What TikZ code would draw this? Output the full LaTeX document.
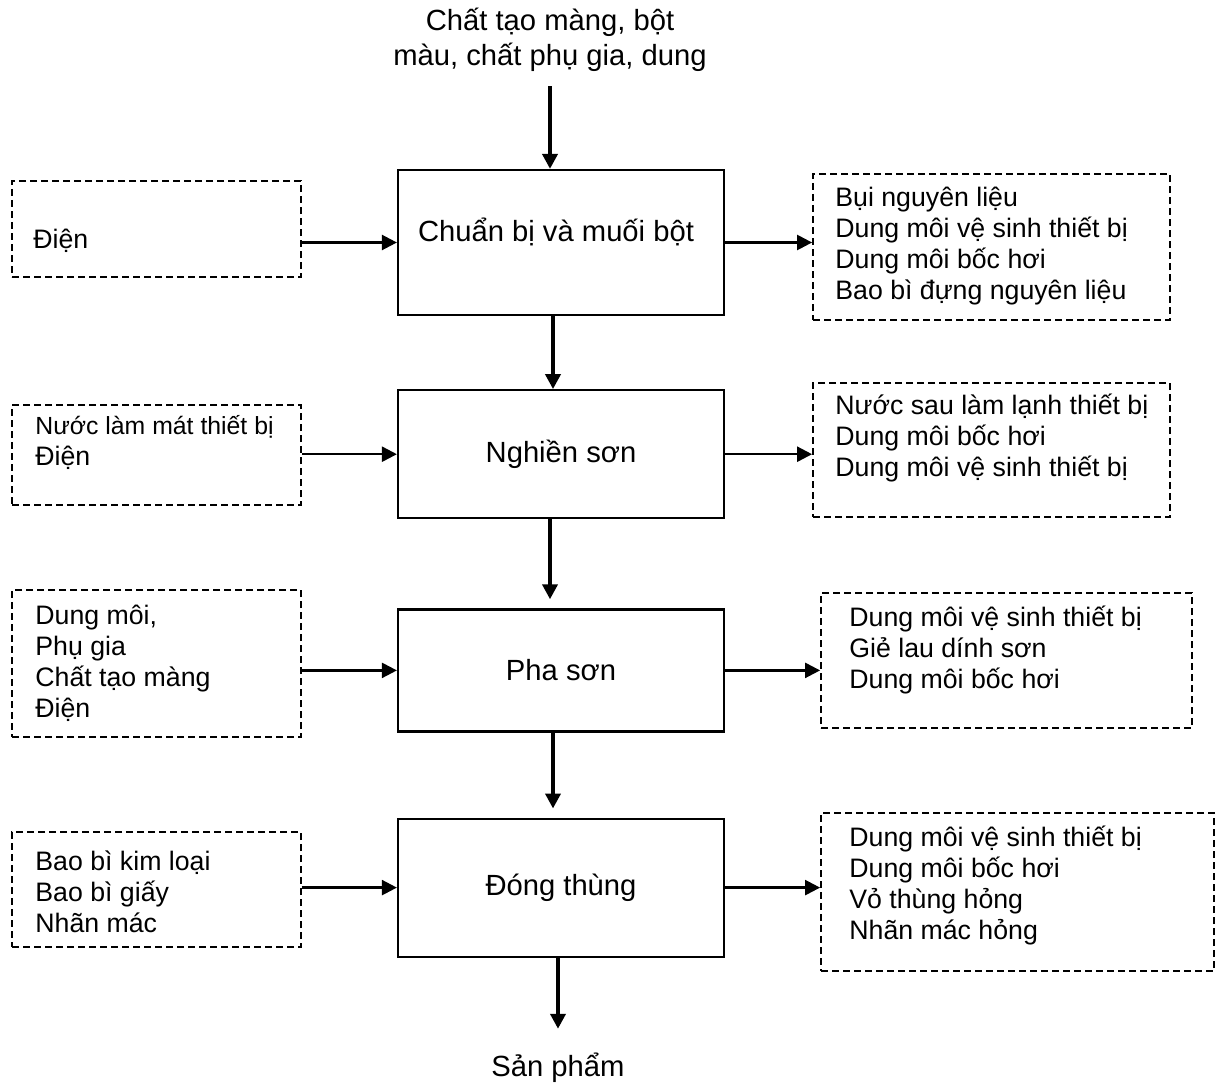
\documentclass[tikz,border=0pt]{standalone}
\usepackage{fontspec}
\setmainfont{Liberation Sans}
\usetikzlibrary{arrows.meta,positioning}
\tikzset{
stepbox/.style={draw,rectangle,line width=1.1pt,minimum width=163pt,align=center,font=\fontsize{14.6pt}{17.5pt}\selectfont},
sidebox/.style={draw,rectangle,dash pattern=on 3.5pt off 2pt,line width=0.9pt},
note/.style={inner sep=0pt,align=left,anchor=west,font=\fontsize{13.35pt}{15.5pt}\selectfont},
flow/.style={->,line width=2pt},
feed/.style={->,line width=1.2pt}
}

\begin{document}
\begin{tikzpicture}[x=0.5pt,y=-0.5pt,>={Triangle[length=7.5pt,width=7.5pt]}]
\useasboundingbox (0,0) rectangle (1221,1086);

\node[inner sep=0pt,align=center,font=\fontsize{14.6pt}{17.5pt}\selectfont] (src) at (550,40) {Chất tạo màng, bột\\màu, chất phụ gia, dung};

\node[stepbox,minimum height=72.5pt,text depth=13pt] (c1) at (561,242.5) {Chuẩn bị và muối bột\hspace{5pt}};
\node[stepbox,minimum height=64pt,below=36.5pt of c1] (c2) {Nghiền sơn};
\node[stepbox,minimum height=61pt,below=44.5pt of c2] (c3) {Pha sơn};
\node[stepbox,minimum height=69pt,below=42.5pt of c3] (c4) {Đóng thùng};

\node[inner sep=0pt,font=\fontsize{14.6pt}{17.5pt}\selectfont] (sp) at (558,1068) {Sản phẩm};

% inputs
\node[sidebox,minimum width=144.5pt,minimum height=48pt] (in1) at (156.5,229) {};
\node[sidebox,minimum width=144.5pt,minimum height=50pt] (in2) at (156.5,455) {};
\node[sidebox,minimum width=144.5pt,minimum height=73.5pt] (in3) at (156.5,663.5) {};
\node[sidebox,minimum width=144.5pt,minimum height=57.5pt] (in4) at (156.5,889.5) {};

\node[note] (t1) at (33,241) {Điện};
\node[note] (t2) at (35,442) {{\fontsize{12.4pt}{15.5pt}\selectfont Nước làm mát thiết bị}\\Điện};
\node[note] (t3) at (35,663) {Dung môi,\\Phụ gia\\Chất tạo màng\\Điện};
\node[note] (t4) at (35,892) {Bao bì kim loại\\Bao bì giấy\\Nhãn mác};

% outputs
\node[sidebox,minimum width=178.5pt,minimum height=73pt] (out1) at (991.5,247) {};
\node[sidebox,minimum width=178.5pt,minimum height=67pt] (out2) at (991.5,450) {};
\node[sidebox,minimum width=185.5pt,minimum height=67.5pt] (out3) at (1006.5,660.5) {};
\node[sidebox,minimum width=196.5pt,minimum height=79pt] (out4) at (1017.5,892) {};

\node[note] (r1) at (835,246.5) {Bụi nguyên liệu\\Dung môi vệ sinh thiết bị\\Dung môi bốc hơi\\Bao bì đựng nguyên liệu};
\node[note] (r2) at (835,438.5) {Nước sau làm lạnh thiết bị\\Dung môi bốc hơi\\Dung môi vệ sinh thiết bị};
\node[note] (r3) at (849,650) {Dung môi vệ sinh thiết bị\\Giẻ lau dính sơn\\Dung môi bốc hơi};
\node[note] (r4) at (849,885.5) {Dung môi vệ sinh thiết bị\\Dung môi bốc hơi\\Vỏ thùng hỏng\\Nhãn mác hỏng};

% main flow
\draw[flow,shorten <=7pt] (src.south) -- (src.south |- c1.north);
\draw[flow] ([xshift=-4pt]c1.south) -- ([xshift=-4pt]c2.north);
\draw[flow,shorten >=4.5pt] ([xshift=-5.5pt]c2.south) -- ([xshift=-5.5pt]c3.north);
\draw[flow,shorten >=4.5pt] ([xshift=-4pt]c3.south) -- ([xshift=-4pt]c4.north);
\draw[flow,shorten >=12pt] (c4.south -| sp.north) -- (sp.north);

\foreach \i in {1,2,3,4}
  \draw[feed] (in\i.east |- c\i.west) -- (c\i.west);

\foreach \i in {1,2,3,4}
  \draw[feed] (c\i.east) -- (out\i.west |- c\i.east);
\end{tikzpicture}
\end{document}
